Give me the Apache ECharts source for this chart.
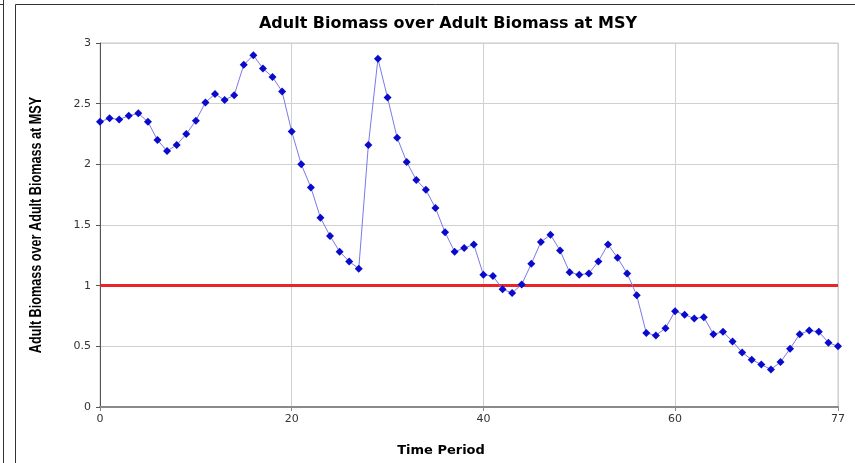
<!DOCTYPE html>
<html>
<head>
<meta charset="utf-8">
<title>Adult Biomass over Adult Biomass at MSY</title>
<script src="https://cdn.jsdelivr.net/npm/echarts@6/dist/echarts.min.js"></script>
<style>
  html, body { margin: 0; padding: 0; background: #ffffff; }
  #chart { width: 855px; height: 463px; }
</style>
</head>
<body>
<div id="chart"></div>
<script>
// Adult biomass relative to the biomass at maximum sustainable yield, per time period
const biomassRatio = [
  2.35, 2.38, 2.37, 2.40, 2.42, 2.35, 2.20, 2.11, 2.16, 2.25,
  2.36, 2.51, 2.58, 2.53, 2.57, 2.82, 2.90, 2.79, 2.72, 2.60,
  2.27, 2.00, 1.81, 1.56, 1.41, 1.28, 1.20, 1.14, 2.16, 2.87,
  2.55, 2.22, 2.02, 1.87, 1.79, 1.64, 1.44, 1.28, 1.31, 1.34,
  1.09, 1.08, 0.97, 0.94, 1.01, 1.18, 1.36, 1.42, 1.29, 1.11,
  1.09, 1.10, 1.20, 1.34, 1.23, 1.10, 0.92, 0.61, 0.59, 0.65,
  0.79, 0.76, 0.73, 0.74, 0.60, 0.62, 0.54, 0.45, 0.39, 0.35,
  0.31, 0.37, 0.48, 0.60, 0.63, 0.62, 0.53, 0.50
];
const timePeriods = biomassRatio.map((_, i) => i);

// Reference level: biomass equal to biomass at MSY
const msyLevel = 1;

// Axis ticks
const xTickValues = [0, 20, 40, 60, 77];
const yTickValues = [0, 0.5, 1, 1.5, 2, 2.5, 3];

const yAxisTitle = 'Adult Biomass over Adult Biomass at MSY';

const chart = echarts.init(document.getElementById('chart'), null, { renderer: 'canvas' });

const tickFont = 'DejaVu Sans, Verdana, sans-serif';

chart.setOption({
  animation: false,
  backgroundColor: '#ffffff',
  title: {
    text: 'Adult Biomass over Adult Biomass at MSY',
    left: 443,
    top: 11,
    textAlign: 'center',
    textStyle: {
      fontFamily: 'DejaVu Sans, sans-serif',
      fontWeight: 'bold',
      fontSize: 16,
      color: '#000000'
    }
  },
  graphic: [
    // outer frame lines
    { type: 'line', shape: { x1: 3.5, y1: 0, x2: 3.5, y2: 463 }, style: { stroke: '#333333', lineWidth: 1 } },
    { type: 'line', shape: { x1: 0, y1: 4.5, x2: 3.5, y2: 4.5 }, style: { stroke: '#333333', lineWidth: 1 } },
    { type: 'rect', shape: { x: 15.5, y: 4.5, width: 860, height: 470 }, style: { fill: 'none', stroke: '#333333', lineWidth: 1 }, z: -1 },
    // condensed vertical axis title
    {
      type: 'text',
      x: 37,
      y: 225,
      rotation: Math.PI / 2,
      scaleX: 0.79,
      style: {
        text: yAxisTitle,
        font: 'bold 16px "Liberation Sans", Arial, sans-serif',
        fill: '#000000',
        align: 'center',
        verticalAlign: 'middle'
      }
    }
  ],
  grid: {
    left: 100,
    right: 17,
    top: 43,
    bottom: 56,
    show: true,
    borderColor: '#c8c8c8',
    borderWidth: 1
  },
  xAxis: {
    type: 'value',
    min: 0,
    max: 77,
    name: 'Time Period',
    nameLocation: 'middle',
    nameGap: 37,
    nameTextStyle: {
      fontFamily: 'DejaVu Sans, sans-serif',
      fontWeight: 'bold',
      fontSize: 13,
      color: '#000000',
      padding: [0, 56, 0, 0]
    },
    axisLine: { show: true, onZero: false, lineStyle: { color: '#8a8a8a', width: 2 } },
    axisTick: { show: true, length: 4, customValues: xTickValues, lineStyle: { color: '#8a8a8a' } },
    axisLabel: {
      customValues: xTickValues,
      margin: 7,
      fontFamily: tickFont,
      fontSize: 11,
      color: '#333333'
    },
    splitLine: { show: true, lineStyle: { color: '#d0d0d0', width: 1 } }
  },
  yAxis: {
    type: 'value',
    min: 0,
    max: 3,
    interval: 0.5,
    axisLine: { show: true, lineStyle: { color: '#555555', width: 1 } },
    axisTick: { show: true, length: 4, lineStyle: { color: '#555555' } },
    axisLabel: {
      margin: 9,
      fontFamily: tickFont,
      fontSize: 11,
      color: '#333333',
      customValues: yTickValues
    },
    splitLine: { show: true, lineStyle: { color: '#d0d0d0', width: 1 } }
  },
  series: [
    {
      name: 'Adult Biomass / Biomass at MSY',
      type: 'line',
      data: timePeriods.map((t, i) => [t, biomassRatio[i]]),
      symbol: 'diamond',
      symbolSize: 8,
      showAllSymbol: true,
      lineStyle: { color: '#7a7ae8', width: 1 },
      itemStyle: { color: '#0a0acc', borderWidth: 0 },
      z: 3,
      markLine: {
        silent: true,
        symbol: ['none', 'none'],
        label: { show: false },
        lineStyle: { color: '#e8262a', width: 3, type: 'solid' },
        data: [{ yAxis: msyLevel }],
        z: 2
      }
    }
  ]
});
</script>
</body>
</html>
